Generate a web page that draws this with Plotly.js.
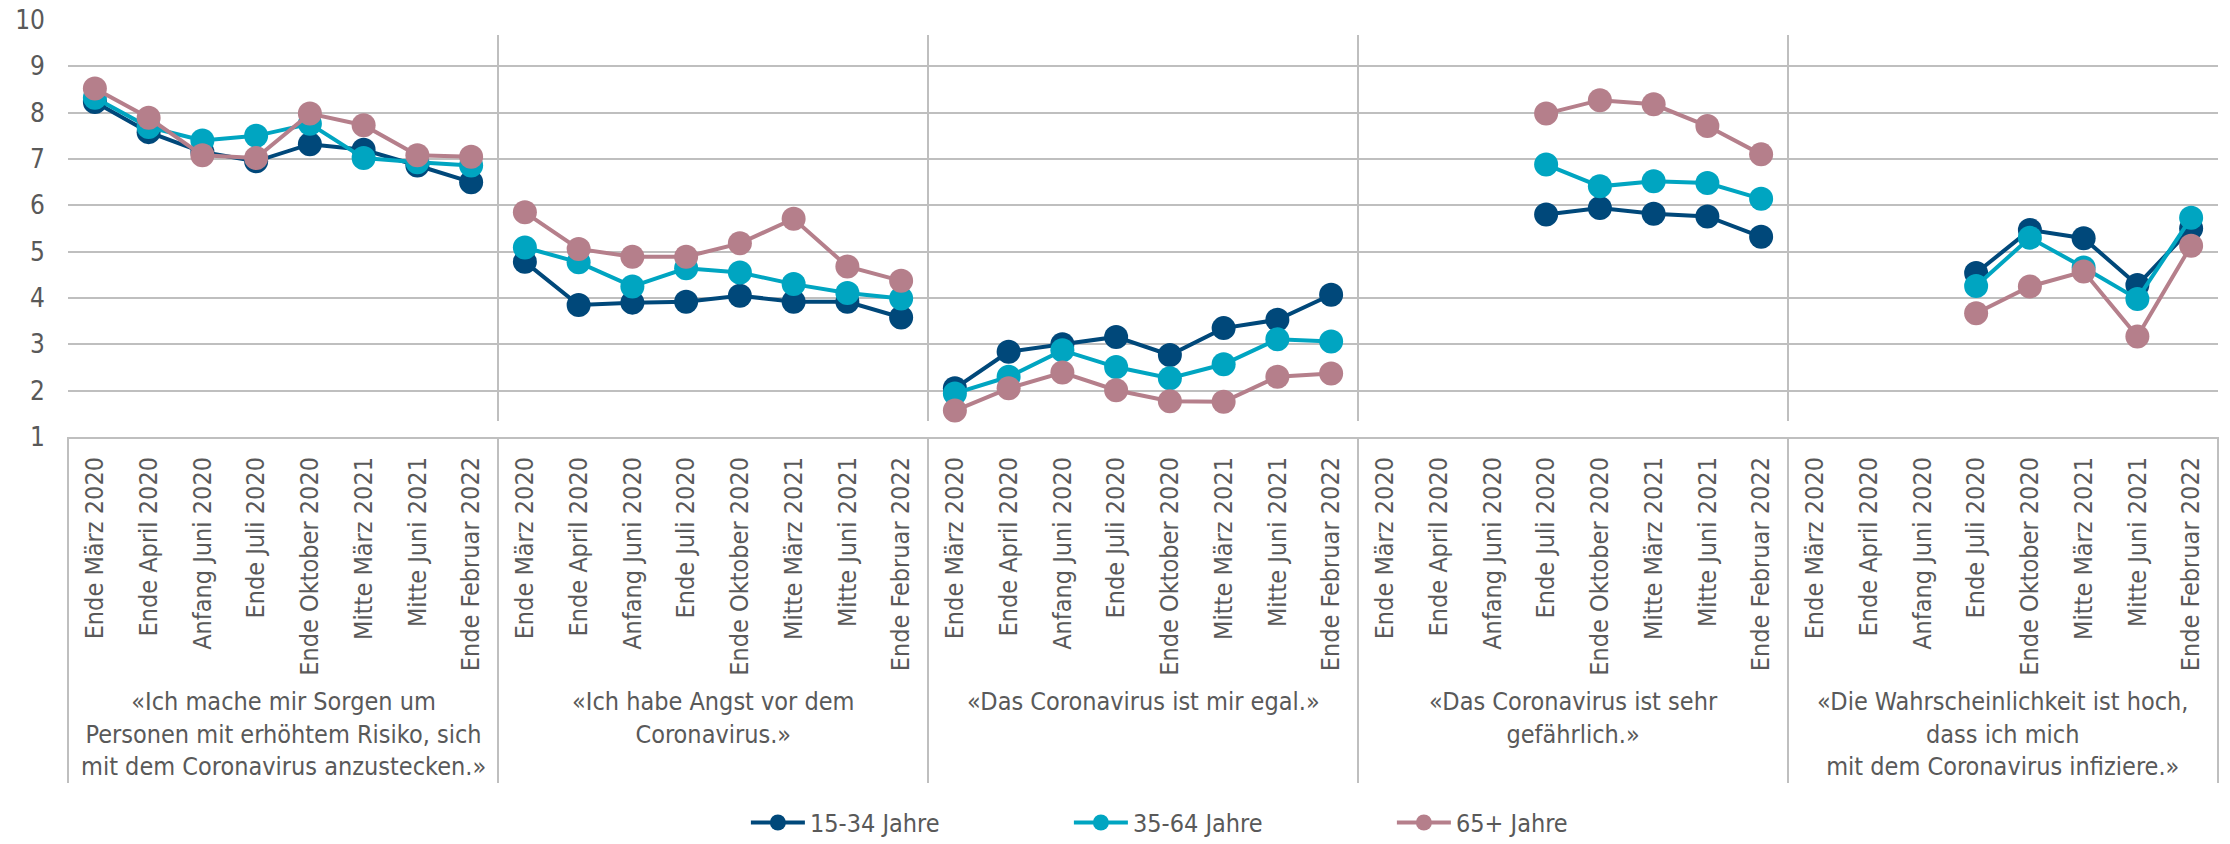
<!DOCTYPE html>
<html>
<head>
<meta charset="utf-8">
<script src="https://cdn.plot.ly/plotly-3.0.1.min.js"></script>
<style>
  html, body { margin: 0; padding: 0; background: #ffffff; }
  #chart { width: 2230px; height: 844px; }
</style>
</head>
<body>
<div id="chart"></div>
<script>
// ---- Data ----
const statements = [
  "«Ich mache mir Sorgen um<br>Personen mit erhöhtem Risiko, sich<br>mit dem Coronavirus anzustecken.»",
  "«Ich habe Angst vor dem<br>Coronavirus.»",
  "«Das Coronavirus ist mir egal.»",
  "«Das Coronavirus ist sehr<br>gefährlich.»",
  "«Die Wahrscheinlichkeit ist hoch,<br>dass ich mich<br>mit dem Coronavirus infiziere.»"
];

const surveyDates = [
  "Ende März 2020", "Ende April 2020", "Anfang Juni 2020", "Ende Juli 2020",
  "Ende Oktober 2020", "Mitte März 2021", "Mitte Juni 2021", "Ende Februar 2022"
];

const seriesNames = ["15-34 Jahre", "35-64 Jahre", "65+ Jahre"];

const age15to34 = [
  8.23, 7.58, 7.15, 6.95, 7.32, 7.20, 6.86, 6.50,
  4.78, 3.85, 3.90, 3.92, 4.05, 3.92, 3.92, 3.58,
  2.05, 2.84, 3.00, 3.16, 2.77, 3.35, 3.53, 4.07,
  null, null, null, 5.80, 5.94, 5.82, 5.76, 5.32,
  null, null, null, 4.54, 5.47, 5.29, 4.28, 5.50
];

const age35to64 = [
  8.32, 7.69, 7.40, 7.50, 7.76, 7.02, 6.93, 6.86,
  5.09, 4.77, 4.25, 4.64, 4.55, 4.30, 4.11, 3.99,
  1.94, 2.30, 2.87, 2.51, 2.27, 2.57, 3.11, 3.06,
  null, null, null, 6.88, 6.41, 6.52, 6.48, 6.14,
  null, null, null, 4.26, 5.30, 4.66, 3.98, 5.73
];

const age65plus = [
  8.52, 7.89, 7.08, 7.02, 7.98, 7.73, 7.08, 7.05,
  5.85, 5.06, 4.89, 4.89, 5.18, 5.71, 4.68, 4.37,
  1.57, 2.05, 2.39, 2.01, 1.77, 1.76, 2.30, 2.37,
  null, null, null, 7.98, 8.27, 8.18, 7.71, 7.10,
  null, null, null, 3.67, 4.25, 4.57, 3.17, 5.13
];

// ---- Styling ----
const colors = ["#00487a", "#00a5c1", "#b57f8b"];
const textColor = "#595959";
const gridColor = "#bfbfbf";
const fontFamily = "'DejaVu Sans Condensed', 'DejaVu Sans', sans-serif";

const nG = statements.length;
const nD = surveyDates.length;

function buildXY(values) {
  const x = [], y = [];
  for (let g = 0; g < nG; g++) {
    for (let i = 0; i < nD; i++) {
      x.push(g * nD + i);
      y.push(values[g * nD + i]);
    }
    x.push(g * nD + nD - 0.5);
    y.push(null);
  }
  return {x, y};
}

const allSeries = [age15to34, age35to64, age65plus];
const traces = allSeries.map((vals, k) => {
  const xy = buildXY(vals);
  return {
    type: "scatter",
    mode: "lines+markers",
    name: seriesNames[k],
    x: xy.x,
    y: xy.y,
    connectgaps: false,
    line: {color: colors[k], width: 4},
    marker: {color: colors[k], size: 24},
    hoverinfo: "skip"
  };
});

const tickvals = [], ticktext = [];
for (let g = 0; g < nG; g++) {
  for (let i = 0; i < nD; i++) {
    tickvals.push(g * nD + i);
    ticktext.push(surveyDates[i]);
  }
}

const shapes = [];
// separators inside plot area
for (let g = 1; g < nG; g++) {
  shapes.push({
    type: "line", xref: "x", yref: "y",
    x0: g * nD - 0.5, x1: g * nD - 0.5, y0: 1.345, y1: 9.676,
    line: {color: gridColor, width: 2}, layer: "below"
  });
}
// separators in the category label area
const labelBottom = -0.83;
for (let g = 1; g < nG; g++) {
  shapes.push({
    type: "line", xref: "x", yref: "paper",
    x0: g * nD - 0.5, x1: g * nD - 0.5, y0: 0, y1: labelBottom,
    line: {color: gridColor, width: 2}
  });
}
[0, 1].forEach(px => {
  shapes.push({
    type: "line", xref: "paper", yref: "paper",
    x0: px, x1: px, y0: 0, y1: labelBottom,
    line: {color: gridColor, width: 2}
  });
});

const annotations = statements.map((s, g) => ({
  text: s,
  xref: "x", yref: "paper",
  x: g * nD + (nD - 1) / 2, y: 0,
  xanchor: "center", yanchor: "top",
  yshift: -248,
  showarrow: false,
  align: "center",
  font: {family: fontFamily, size: 25, color: textColor}
}));

const layout = {
  width: 2230, height: 844,
  margin: {l: 68, r: 12, t: 20, b: 407, autoexpand: false},
  paper_bgcolor: "#ffffff",
  plot_bgcolor: "#ffffff",
  font: {family: fontFamily, color: textColor, size: 25},
  showlegend: true,
  legend: {
    orientation: "h",
    x: 0.3153, xanchor: "left",
    y: -0.925, yanchor: "middle",
    itemwidth: 54,
    entrywidth: 254,
    entrywidthmode: "pixels",
    font: {family: fontFamily, size: 25, color: textColor},
    bgcolor: "rgba(0,0,0,0)"
  },
  xaxis: {
    range: [-0.5, nG * nD - 0.5],
    tickmode: "array",
    tickvals: tickvals,
    ticktext: ticktext,
    tickangle: -90,
    showgrid: false,
    zeroline: false,
    showline: true,
    linecolor: gridColor,
    linewidth: 2,
    ticks: "",
    ticklabelstandoff: 8,
    automargin: false,
    tickfont: {family: fontFamily, size: 25, color: textColor},
    fixedrange: true
  },
  yaxis: {
    range: [1, 10],
    tickmode: "linear",
    tick0: 1,
    dtick: 1,
    showgrid: true,
    gridcolor: gridColor,
    gridwidth: 2,
    zeroline: false,
    showline: false,
    ticks: "",
    ticklabelstandoff: 22,
    automargin: false,
    tickfont: {family: fontFamily, size: 26, color: textColor},
    fixedrange: true
  },
  shapes: shapes,
  annotations: annotations
};

Plotly.newPlot("chart", traces, layout, {displayModeBar: false, responsive: false, staticPlot: true});
</script>
</body>
</html>
